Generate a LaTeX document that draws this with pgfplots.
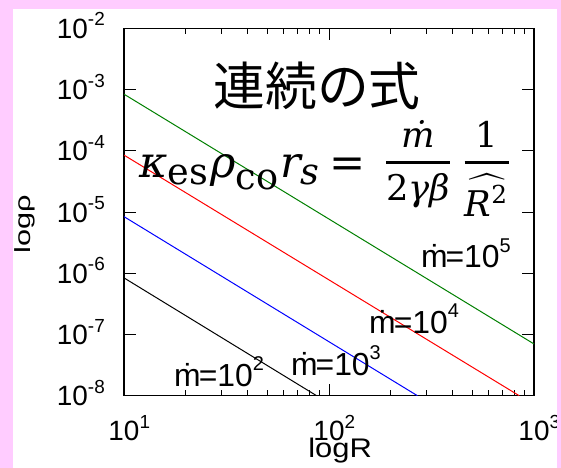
\documentclass[border=0pt]{standalone}
\usepackage{graphicx}
\usepackage{pgfplots}
\pgfplotsset{compat=1.18}
\usepackage{fontspec}
\setmainfont{Liberation Sans}
\newfontfamily\cjk{Noto Sans CJK JP}
\newfontfamily\eqf{DejaVu Serif}
\definecolor{bgpink}{RGB}{255,204,255}
\definecolor{dgreen}{RGB}{0,128,0}
\newcommand\yl[1]{10\raisebox{12.4pt}{\fontsize{19}{19}\selectfont #1}}
\newcommand\xl[1]{10\rlap{\raisebox{12.4pt}{\fontsize{19}{19}\selectfont #1}}}
\newcommand\mlab[1]{ṁ\kern-2pt=10\raisebox{15.5pt}{\fontsize{20}{20}\selectfont #1}}
\newcommand\sbs[1]{\mbox{\eqf\fontsize{8.5}{9}\selectfont #1}}
\begin{document}
\begin{tikzpicture}
\useasboundingbox (0,0) rectangle (561bp,468bp);
\fill[bgpink] (0,0) rectangle (561bp,468bp);
\fill[white] (13.3bp,0) rectangle (557bp,459bp);
\begin{axis}[
  at={(124bp,72.3bp)}, anchor=south west,
  scale only axis, width=410bp, height=367.4bp,
  xmode=log, ymode=log,
  xmin=10, xmax=1000, ymin=1e-8, ymax=1e-2,
  xtick={10,100,1000}, xticklabels={\xl{1},\xl{2},\xl{3}},
  ytick={1e-8,1e-7,1e-6,1e-5,1e-4,1e-3,1e-2},
  yticklabels={\yl{-8},\yl{-7},\yl{-6},\yl{-5},\yl{-4},\yl{-3},\yl{-2}},
  yminorticks=false,
  tick align=inside,
  major tick length=12bp, minor tick length=6bp,
  every tick/.style={black, line width=1bp},
  axis line style={line width=1.5bp},
  tick label style={font=\fontsize{28}{30}\selectfont},
  xticklabel style={anchor=north, inner sep=0pt, yshift=-19.3bp},
  yticklabel style={anchor=base east, inner sep=0pt, xshift=-19bp, yshift=-10bp},
  xlabel={\scalebox{1.15}[1]{logR}}, ylabel={\scalebox{1.4}[1]{logρ}},
  xlabel style={font=\fontsize{27}{29}\selectfont, inner sep=0pt, at={(axis description cs:0.527,-0.167)}, anchor=base},
  ylabel style={font=\fontsize{22}{24}\selectfont, inner sep=0pt, at={(axis description cs:-0.2415,0.467)}, anchor=center},
]
\addplot[dgreen, line width=1bp] coordinates {(10,8.4e-4) (1000,7.0e-8)};
\addplot[red, line width=1bp] coordinates {(10,8.5e-5) (847,1e-8)};
\addplot[blue, line width=1bp] coordinates {(10,8.4e-6) (270,1e-8)};
\addplot[black, line width=1bp] coordinates {(10,8.4e-7) (87,1e-8)};
\node[anchor=base west, inner sep=0pt, font=\fontsize{32}{34}\selectfont] at (rel axis cs:0.724,0.3476) {\mlab{5}};
\node[anchor=base west, inner sep=0pt, font=\fontsize{32}{34}\selectfont] at (rel axis cs:0.5976,0.1698) {\mlab{4}};
\node[anchor=base west, inner sep=0pt, font=\fontsize{32}{34}\selectfont] at (rel axis cs:0.407,0.0563) {\mlab{3}};
\node[anchor=base west, inner sep=0pt, font=\fontsize{32}{34}\selectfont] at (rel axis cs:0.122,0.0256) {\mlab{2}};
\end{axis}
\fill[bgpink] (557bp,0) rectangle (561bp,468bp);
\node[inner sep=0pt, font=\cjk\fontsize{52}{56}\selectfont] at (317bp,382bp) {連続の式};
\node[inner sep=0pt, anchor=base west] at (139bp,290bp) {\resizebox{226bp}{!}{$\mbox{\eqf\itshape κ}_{\sbs{es}}\mbox{\eqf\itshape ρ}_{\sbs{co}}\mbox{\eqf\itshape r}_{\sbs{\itshape s}}\mbox{\eqf\,=}$}};
\node[inner sep=0pt] at (447.5bp,299.5bp) {\resizebox{131bp}{!}{$\displaystyle{\mbox{\eqf\itshape ṁ}\above 0.9pt\mbox{\eqf 2\itshape γβ}}\,{\mbox{\eqf 1}\above 0.9pt\widehat{\mbox{\eqf\itshape R\textsuperscript{\upshape 2}}}}$}};
\end{tikzpicture}
\end{document}
